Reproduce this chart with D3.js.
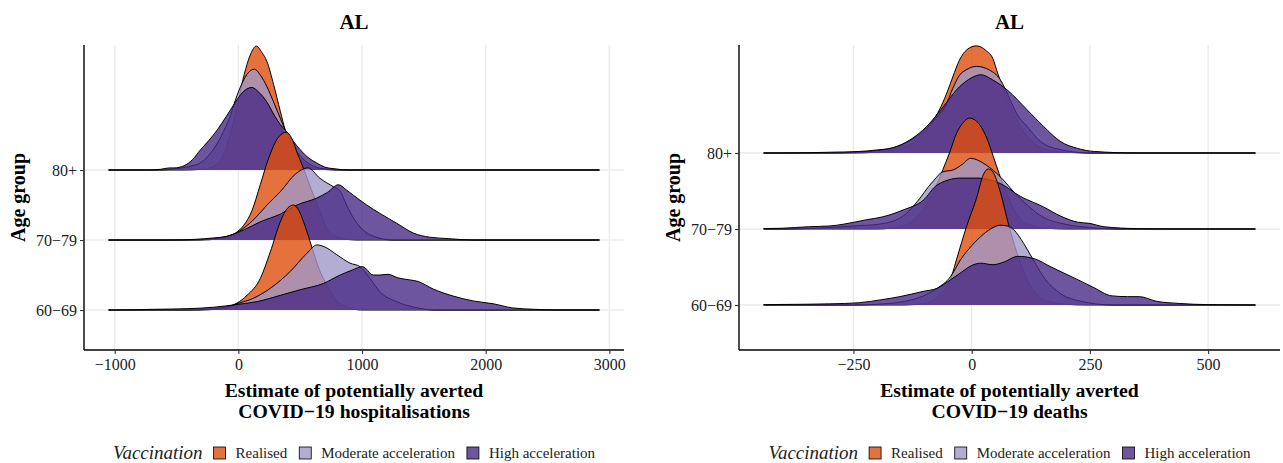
<!DOCTYPE html>
<html><head><meta charset="utf-8">
<script src="https://cdn.jsdelivr.net/npm/d3@7"></script>
<style>
body{margin:0;background:#fff}
svg{display:block}
text{font-family:"Liberation Serif","Times New Roman",serif;}
</style>
</head><body><svg id="c" width="1283" height="463"></svg>
<script>
// ---------- data ----------
const ageGroups = ["60\u221269", "70\u221279", "80+"];
const seriesNames = ["Realised", "Moderate acceleration", "High acceleration"];
const seriesColors = ["#DF4D0B", "#A098C8", "#4A2B87"];
const fillAlpha = 0.8;
const panelTitles = ["AL", "AL"];
const xTitles = [["Estimate of potentially averted", "COVID\u221219 hospitalisations"],
                 ["Estimate of potentially averted", "COVID\u221219 deaths"]];
const hospTicks = [-1000, 0, 1000, 2000, 3000];
const deathTicks = [-250, 0, 250, 500];
const hospRange = [-1050, 2920];
const deathRange = [-440, 600];

// density curves: [estimate, ridge height in units of ridge spacing]
const hospRealised80 = [[-450,0],[-300,0.01],[-200,0.05],[-120,0.22],[-60,0.55],[0,0.98],[30,1.24],[60,1.45],[100,1.66],[145,1.77],[190,1.68],[231,1.55],[285,1.22],[339,0.84],[379,0.57],[430,0.33],[500,0.15],[580,0.05],[680,0.01],[800,0]];
const hospModerate80 = [[-650,0],[-500,0.02],[-400,0.05],[-300,0.11],[-200,0.3],[-120,0.55],[-60,0.8],[-24,1.0],[30,1.24],[80,1.39],[129,1.44],[180,1.35],[231,1.19],[285,0.97],[339,0.74],[379,0.57],[440,0.35],[500,0.2],[580,0.08],[680,0.02],[850,0]];
const hospHigh80 = [[-750,0],[-629,0.01],[-560,0.03],[-520,0.03],[-441,0.06],[-370,0.15],[-306,0.29],[-240,0.42],[-172,0.57],[-100,0.76],[-38,0.93],[20,1.08],[70,1.16],[110,1.18],[160,1.12],[231,0.97],[285,0.8],[339,0.65],[379,0.57],[440,0.42],[500,0.29],[570,0.17],[634,0.1],[700,0.04],[766,0.02],[900,0]];

const hospRealised70 = [[-300,0],[-150,0.02],[-60,0.07],[-24,0.1],[43,0.21],[110,0.42],[177,0.79],[245,1.17],[320,1.46],[387,1.54],[440,1.42],[473,1.26],[527,1.02],[607,0.64],[661,0.4],[715,0.17],[780,0.06],[850,0.02],[950,0]];
const hospModerate70 = [[-400,0],[-200,0.02],[-60,0.07],[-16,0.1],[43,0.17],[140,0.32],[231,0.5],[339,0.69],[460,0.94],[562,1.03],[661,0.88],[769,0.76],[823,0.7],[870,0.52],[903,0.4],[960,0.24],[1010,0.14],[1100,0.05],[1250,0]];
const hospHigh70 = [[-550,0],[-350,0.01],[-200,0.03],[-100,0.05],[-30,0.09],[50,0.15],[177,0.26],[339,0.37],[473,0.5],[635,0.6],[720,0.68],[809,0.79],[870,0.72],[930,0.64],[1038,0.5],[1145,0.38],[1280,0.24],[1414,0.1],[1548,0.04],[1700,0.02],[1900,0]];

const hospRealised60 = [[-300,0],[-150,0.02],[-60,0.06],[-11,0.1],[70,0.21],[177,0.45],[258,0.83],[339,1.26],[400,1.46],[446,1.5],[490,1.42],[527,1.26],[594,0.9],[661,0.55],[715,0.36],[800,0.12],[900,0.03],[1000,0]];
const hospModerate60 = [[-400,0],[-200,0.02],[-60,0.06],[-11,0.09],[124,0.17],[258,0.31],[419,0.55],[554,0.81],[635,0.93],[700,0.9],[796,0.79],[903,0.67],[984,0.62],[1065,0.45],[1145,0.26],[1280,0.12],[1450,0.03],[1600,0]];
const hospHigh60 = [[-1000,0],[-700,0.01],[-400,0.02],[-200,0.04],[-11,0.08],[151,0.12],[339,0.21],[500,0.29],[688,0.38],[823,0.5],[920,0.57],[1004,0.62],[1091,0.5],[1145,0.5],[1210,0.51],[1290,0.46],[1387,0.43],[1450,0.41],[1575,0.3],[1736,0.2],[1898,0.13],[2059,0.09],[2218,0.03],[2400,0.01],[2600,0]];

const deathRealised80 = [[-250,0],[-200,0.01],[-150,0.06],[-120,0.15],[-90,0.35],[-65,0.61],[-50,0.83],[-40,1.0],[-26,1.22],[-10,1.36],[10,1.41],[30,1.35],[45,1.24],[55,1.05],[65,0.88],[80,0.65],[100,0.38],[125,0.17],[150,0.06],[200,0.01],[250,0]];
const deathModerate80 = [[-300,0],[-200,0.03],[-150,0.1],[-100,0.3],[-70,0.5],[-55,0.62],[-40,0.85],[-26,1.02],[-10,1.1],[10,1.14],[38,1.09],[60,0.97],[80,0.72],[95,0.52],[117,0.35],[150,0.13],[200,0.03],[250,0]];
const deathHigh80 = [[-400,0],[-300,0.01],[-238,0.02],[-200,0.04],[-167,0.07],[-131,0.17],[-95,0.35],[-60,0.61],[-26,0.87],[0,0.99],[19,1.03],[45,0.96],[75,0.83],[117,0.57],[152,0.35],[188,0.15],[224,0.06],[260,0.02],[350,0]];

const deathRealised70 = [[-200,0],[-150,0.03],[-110,0.2],[-80,0.5],[-61,0.78],[-47,1.0],[-32,1.26],[-15,1.42],[-5,1.46],[10,1.42],[31,1.21],[46,0.95],[58,0.73],[75,0.45],[95,0.2],[120,0.06],[160,0.01],[200,0]];
const deathModerate70 = [[-400,0],[-300,0.02],[-250,0.04],[-200,0.06],[-150,0.15],[-110,0.4],[-91,0.56],[-80,0.64],[-62,0.75],[-38,0.78],[-20,0.85],[-2,0.93],[15,0.9],[31,0.84],[60,0.69],[89,0.49],[120,0.3],[150,0.16],[200,0.06],[250,0.02],[320,0]];
const deathHigh70 = [[-440,0.005],[-400,0.01],[-345,0.03],[-300,0.04],[-274,0.06],[-224,0.12],[-188,0.16],[-145,0.25],[-102,0.38],[-73,0.58],[-24,0.67],[12,0.67],[35,0.65],[60,0.6],[103,0.43],[152,0.29],[188,0.17],[224,0.09],[248,0.075],[280,0.03],[350,0.005],[420,0]];

const deathRealised60 = [[-150,0],[-100,0.02],[-70,0.12],[-43,0.37],[-32,0.6],[-11,1.03],[10,1.4],[25,1.72],[35,1.79],[45,1.75],[60,1.5],[78,1.06],[95,0.7],[115,0.37],[135,0.15],[160,0.05],[200,0.01],[240,0]];
const deathModerate60 = [[-250,0],[-200,0.01],[-150,0.04],[-110,0.1],[-73,0.22],[-45,0.37],[-24,0.59],[0,0.78],[19,0.9],[40,1.0],[60,1.05],[75,1.04],[89,0.99],[110,0.81],[127,0.63],[152,0.37],[188,0.15],[230,0.05],[300,0]];
const deathHigh60 = [[-440,0.005],[-350,0.01],[-300,0.015],[-238,0.03],[-190,0.07],[-152,0.11],[-102,0.18],[-73,0.22],[-45,0.33],[-24,0.42],[0,0.52],[19,0.55],[45,0.53],[70,0.57],[97,0.64],[132,0.61],[168,0.5],[212,0.37],[255,0.24],[297,0.12],[330,0.11],[355,0.11],[390,0.05],[440,0.02],[500,0.005],[600,0]];

// ---------- layout ----------
const svg = d3.select("#c");
svg.append("rect").attr("width",1283).attr("height",463).attr("fill","#fff");
const FONT = '"Liberation Serif","Times New Roman",serif';

const panels = [
  { x0: 84, x1: 624, yTop: 45, yBot: 350, range: hospRange, ticks: hospTicks, title: panelTitles[0], xTitle: xTitles[0],
    yUnitPad: [0.571, 1.786], yTitleX: 25,
    curves: [[hospRealised60, hospModerate60, hospHigh60],[hospRealised70, hospModerate70, hospHigh70],[hospRealised80, hospModerate80, hospHigh80]] },
  { x0: 739, x1: 1280, yTop: 45, yBot: 350, range: deathRange, ticks: deathTicks, title: panelTitles[1], xTitle: xTitles[1],
    yUnitPad: [0.592, 1.421], yTitleX: 680,
    curves: [[deathRealised60, deathModerate60, deathHigh60],[deathRealised70, deathModerate70, deathHigh70],[deathRealised80, deathModerate80, deathHigh80]] }
];

panels.forEach(p => {
  const span = p.range[1] - p.range[0];
  const x = d3.scaleLinear().domain([p.range[0] - 0.05*span, p.range[1] + 0.05*span]).range([p.x0, p.x1]);
  const y = d3.scaleLinear().domain([-p.yUnitPad[0], ageGroups.length - 1 + p.yUnitPad[1]]).range([p.yBot, p.yTop]);
  const g = svg.append("g");

  // grid
  g.selectAll(".vg").data(p.ticks).join("line")
    .attr("x1", d => x(d)).attr("x2", d => x(d)).attr("y1", p.yTop).attr("y2", p.yBot)
    .attr("stroke", "#ebebeb").attr("stroke-width", 1.4);
  g.selectAll(".hg").data(d3.range(ageGroups.length)).join("line")
    .attr("x1", p.x0).attr("x2", p.x1).attr("y1", d => y(d)).attr("y2", d => y(d))
    .attr("stroke", "#ebebeb").attr("stroke-width", 1.4);

  // ridges: top group first, lower groups overlay
  for (let gi = ageGroups.length - 1; gi >= 0; gi--) {
    p.curves[gi].forEach((pts, si) => {
      let full = pts.slice();
      if (full[0][0] > p.range[0]) full.unshift([p.range[0], 0]);
      if (full[full.length-1][0] < p.range[1]) full.push([p.range[1], 0]);
      const area = d3.area().curve(d3.curveMonotoneX)
        .x(d => x(d[0])).y0(y(gi)).y1(d => y(gi + d[1]));
      const line = d3.line().curve(d3.curveMonotoneX)
        .x(d => x(d[0])).y(d => y(gi + d[1]));
      g.append("path").attr("d", area(full)).attr("fill", seriesColors[si]).attr("fill-opacity", fillAlpha);
      g.append("path").attr("d", line(full)).attr("fill", "none").attr("stroke", "#000").attr("stroke-width", 1.0);
    });
  }

  // axes
  const xAxis = g.append("g").attr("transform", `translate(0,${p.yBot})`)
    .call(d3.axisBottom(x).tickValues(p.ticks).tickSize(4).tickSizeOuter(0).tickPadding(5)
      .tickFormat(d => d < 0 ? "\u2212" + Math.abs(d) : String(d)));
  const yAxis = g.append("g").attr("transform", `translate(${p.x0},0)`)
    .call(d3.axisLeft(y).tickValues(d3.range(ageGroups.length)).tickSize(4).tickSizeOuter(0).tickPadding(3)
      .tickFormat(i => ageGroups[i]));
  yAxis.select(".domain").attr("d", `M0,${p.yTop}V${p.yBot}`);
  [xAxis, yAxis].forEach(a => {
    a.select(".domain").attr("stroke", "#000").attr("stroke-width", 1.4);
    a.selectAll(".tick line").attr("stroke", "#333").attr("stroke-width", 1.1);
    a.selectAll(".tick text").attr("font-family", FONT).attr("font-size", 16).attr("fill", "#222");
  });
  xAxis.select(".domain").attr("d", `M${p.x0},0H${p.x1}`);

  const cx = (p.x0 + p.x1) / 2;
  // title
  svg.append("text").attr("x", cx).attr("y", 29).attr("text-anchor", "middle")
    .attr("font-family", FONT).attr("font-weight", "bold").attr("font-size", 21).text(p.title);
  // x title
  p.xTitle.forEach((t, i) => svg.append("text").attr("x", cx).attr("y", 397 + i*21).attr("text-anchor", "middle")
    .attr("font-family", FONT).attr("font-weight", "bold").attr("font-size", 19.7).text(t));
  // y title
  svg.append("text").attr("transform", `translate(${p.yTitleX},${(p.yTop + p.yBot)/2}) rotate(-90)`)
    .attr("text-anchor", "middle").attr("font-family", FONT).attr("font-weight", "bold").attr("font-size", 20).text("Age group");

  // legend
  const lg = svg.append("g");
  const ly = 459;
  const lt = lg.append("text").attr("x", 0).attr("y", ly).attr("font-family", FONT).attr("font-style", "italic")
    .attr("font-size", 19).attr("fill", "#222").text("Vaccination");
  let cur = lt.node().getComputedTextLength() + 11;
  seriesNames.forEach((s, i) => {
    lg.append("rect").attr("x", cur).attr("y", ly - 12).attr("width", 12).attr("height", 12)
      .attr("fill", seriesColors[i]).attr("fill-opacity", fillAlpha).attr("stroke", "#000").attr("stroke-width", 0.8);
    cur += 12 + 10;
    const tt = lg.append("text").attr("x", cur).attr("y", ly - 1).attr("font-family", FONT).attr("font-size", 15)
      .attr("fill", "#222").text(s);
    cur += tt.node().getComputedTextLength() + (i < seriesNames.length - 1 ? 12 : 0);
  });
  lg.attr("transform", `translate(${cx - cur/2},0)`);
});
</script>
</body></html>
